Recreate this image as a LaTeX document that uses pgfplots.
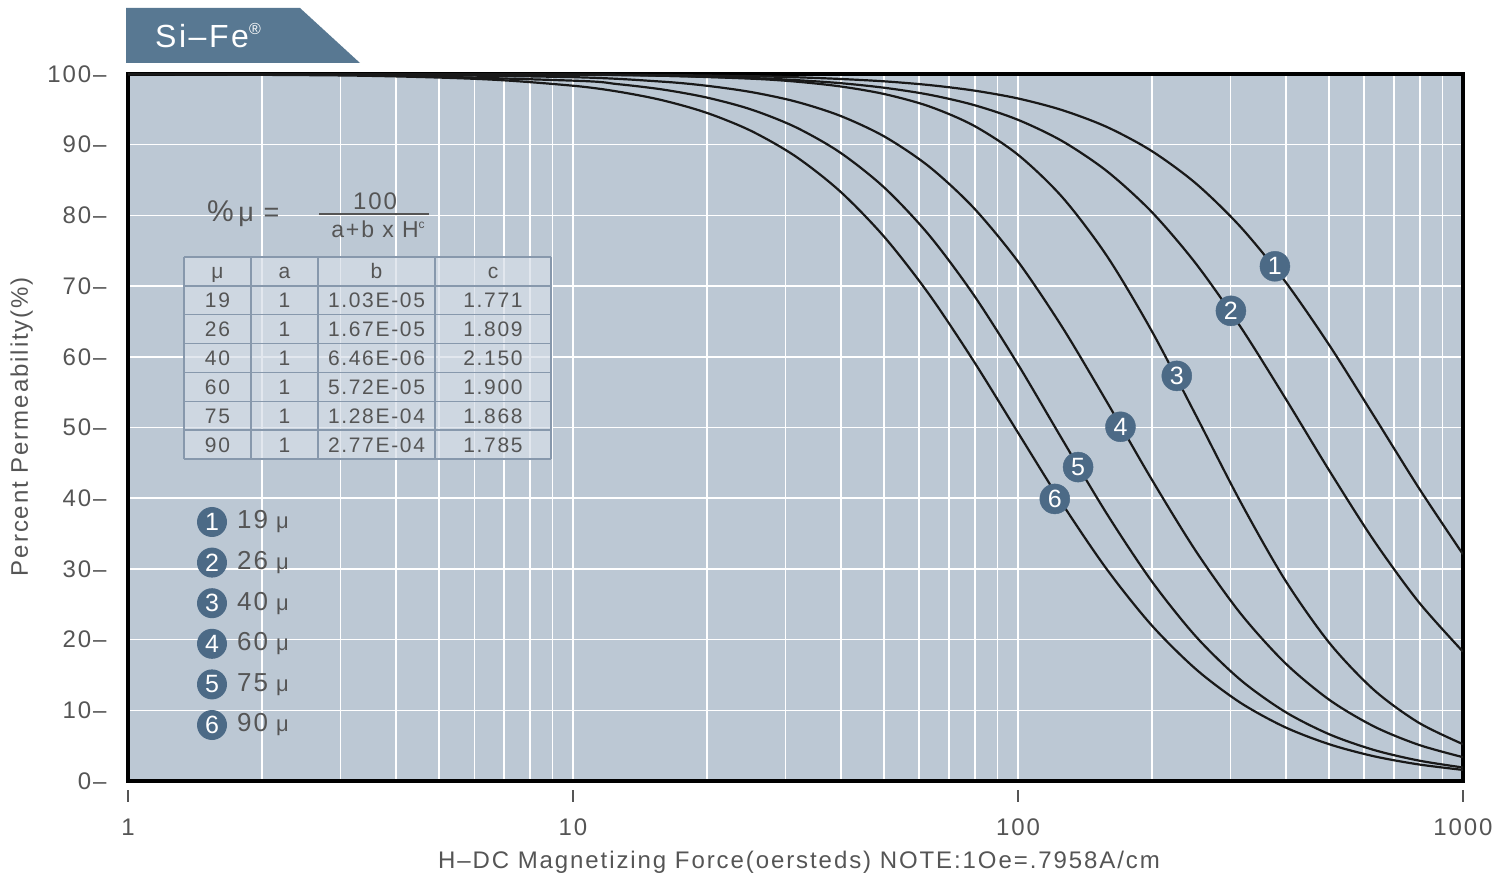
\documentclass[border=0pt]{standalone}
\usepackage{fontspec}
\setmainfont{Liberation Sans}[LetterSpace=8]
\usepackage{pgfplots}
\pgfplotsset{compat=1.18}

\definecolor{plotbg}{RGB}{188,200,212}
\definecolor{tabblue}{RGB}{88,120,146}
\definecolor{markblue}{RGB}{76,106,134}
\definecolor{txtgray}{RGB}{85,85,85}
\definecolor{cellfill}{RGB}{214,222,231}
\definecolor{cellline}{RGB}{135,152,172}

\newcommand{\fs}[1]{\fontsize{#1}{#1}\selectfont}
\pgfplotsset{curve/.style={line width=2.2pt, black!90, smooth, tension=0.5, no markers}}

\begin{document}
\begin{tikzpicture}[x=1pt,y=1pt]
\useasboundingbox (0,0) rectangle (1511,873);

\begin{axis}[
  at={(128pt,92pt)}, anchor=south west,
  width=1335pt, height=707pt, scale only axis,
  xmode=log, xmin=1, xmax=1000, ymin=0, ymax=100,
  axis background/.style={fill=plotbg},
  axis line style={line width=4pt, black},
  xtick={1,10,100,1000},
  xticklabels={1,10,100,1000},
  ytick={0,10,...,100},
  yticklabel={\pgfmathprintnumber[assume math mode=true]{\tick}–},
  major tick length=0pt, minor tick length=0pt,
  tick style={draw=none},
  xticklabel style={text=txtgray, font=\fs{24}, anchor=north, yshift=-34pt},
  yticklabel style={text=txtgray, font=\fs{24}, anchor=east, xshift=-18pt},
  grid=both,
  major grid style={white, line width=1.5pt},
  minor grid style={white, line width=1.5pt},
]
% 19 u
\addplot[curve] table {
1 99.999
3.1623 99.992
10 99.94
15.849 99.86
25.119 99.69
31.623 99.54
39.811 99.30
50.119 98.96
63.096 98.44
79.433 97.67
100 96.54
125.89 94.88
158.49 92.50
199.53 89.13
251.19 84.51
316.23 78.39
398.11 70.71
501.19 61.62
630.96 51.63
794.33 41.53
1000 32.07
};
% 26 u
\addplot[curve] table {
1 99.998
3.1623 99.987
10 99.89
15.849 99.75
25.119 99.43
31.623 99.14
39.811 98.71
50.119 98.05
63.096 97.08
79.433 95.63
100 93.52
125.89 90.49
158.49 86.25
199.53 80.53
251.19 73.17
316.23 64.26
398.11 54.24
501.19 43.87
630.96 34.00
794.33 25.36
1000 18.30
};
% 40 u
\addplot[curve] table {
1 99.999
3.1623 99.992
10 99.91
15.849 99.76
25.119 99.34
31.623 98.93
39.811 98.25
50.119 97.16
63.096 95.43
79.433 92.72
100 88.58
125.89 82.55
158.49 74.25
199.53 63.73
251.19 51.71
316.23 39.50
398.11 28.46
501.19 19.52
630.96 12.88
794.33 8.27
1000 5.21
};
% 60 u
\addplot[curve] table {
1 99.994
3.1623 99.95
10 99.55
15.849 98.92
19.953 98.34
25.119 97.45
31.623 96.11
39.811 94.10
50.119 91.15
63.096 86.92
79.433 81.10
100 73.48
125.89 64.15
158.49 53.60
199.53 42.72
251.19 32.50
316.23 23.71
398.11 16.72
501.19 11.47
630.96 7.72
794.33 5.13
1000 3.37
};
% 75 u
\addplot[curve] table {
1 99.987
3.1623 99.89
10 99.06
12.589 98.57
15.849 97.82
19.953 96.68
25.119 94.99
31.623 92.49
39.811 88.91
50.119 83.91
63.096 77.23
79.433 68.81
100 58.93
125.89 48.27
158.49 37.77
199.53 28.31
251.19 20.43
316.23 14.31
398.11 9.80
501.19 6.60
630.96 4.39
794.33 2.90
1000 1.91
};
% 90 u
\addplot[curve] table {
1 99.97
3.1623 99.78
6.3096 99.26
10 98.34
12.589 97.52
15.849 96.30
19.953 94.52
25.119 91.96
31.623 88.36
39.811 83.42
50.119 76.93
63.096 68.86
79.433 59.44
100 49.28
125.89 39.18
158.49 29.92
199.53 22.06
251.19 15.81
316.23 11.07
398.11 7.62
501.19 5.19
630.96 3.50
794.33 2.35
1000 1.57
};
% numbered markers on the curves
\addplot[only marks, mark=*, mark size=15pt,
  mark options={fill=markblue, draw=markblue},
  point meta=explicit symbolic, nodes near coords,
  nodes near coords align={center},
  every node near coord/.append style={anchor=center, text=white, font=\fs{25}}]
  table[meta=lab] {
x y lab
378 72.8 1
301 66.5 2
227.5 57.3 3
170 50.1 4
136.5 44.4 5
121 39.9 6
};
\end{axis}

% x tick marks below the frame
\foreach \xx in {128,573,1018,1463} \draw[txtgray, line width=1.8pt] (\xx,83) -- (\xx,71);

% title tab
\fill[tabblue] (126,865) -- (300,865) -- (360,810) -- (126,810) -- cycle;
\node[anchor=base west, text=white, font=\fs{32}, inner sep=0] at (155,825)
  {Si–Fe\raisebox{13pt}{\fs{16}®}};

% axis labels
\node[anchor=base, text=txtgray, font=\fs{24}, inner sep=0] at (799,5)
  {H–DC Magnetizing Force(oersteds) NOTE:1Oe=.7958A/cm};
\node[anchor=base, rotate=90, text=txtgray, font=\fs{24}, inner sep=0] at (28,446.5)
  {Percent Permeability(\%)};

% formula
\node[anchor=base west, text=txtgray, font=\fs{27}, inner sep=0] at (207,651) {{\fs{30}\%}\,μ =};
\node[anchor=base, text=txtgray, font=\fs{24}, inner sep=0] at (375,663) {100};
\draw[txtgray, line width=1.5pt] (319,659) -- (429,659);
\node[anchor=base, text=txtgray, font=\fs{23}, inner sep=0] at (378,635)
  {a+b x H\raisebox{9pt}{\fs{12}c}};

% coefficient table
\fill[cellfill, opacity=0.7] (184,616) rectangle (551,414);
\foreach \k in {0,...,7} \draw[cellline, line width=1.5pt] (184,616-28.857*\k) -- (551,616-28.857*\k);
\foreach \xx in {184,251,318,435,551} \draw[cellline, line width=1.5pt] (\xx,616) -- (\xx,414);
\foreach \r/\m/\a/\b/\c in {0/μ/a/b/c,1/19/1/1.03E-05/1.771,2/26/1/1.67E-05/1.809,
  3/40/1/6.46E-06/2.150,4/60/1/5.72E-05/1.900,5/75/1/1.28E-04/1.868,6/90/1/2.77E-04/1.785}{
  \begin{scope}[every node/.style={anchor=base, inner sep=0, text=txtgray, font=\fs{21}}]
  \node at (217.5,616-28.857*\r-22) {\m};
  \node at (284.5,616-28.857*\r-22) {\a};
  \node at (376.5,616-28.857*\r-22) {\b};
  \node at (493,616-28.857*\r-22) {\c};
  \end{scope}
}

% legend
\foreach \i/\n/\lab in {0/1/19,1/2/26,2/3/40,3/4/60,4/5/75,5/6/90}{
  \fill[markblue] (212,351-40.6*\i) circle (15);
  \node[text=white, font=\fs{25}, inner sep=0] at (212,351-40.6*\i) {\n};
  \node[anchor=west, text=txtgray, font=\fs{26}, inner sep=0] at (237,351-40.6*\i)
    {\lab\hspace{8pt}{\fs{22}μ}};
}
\end{tikzpicture}
\end{document}
